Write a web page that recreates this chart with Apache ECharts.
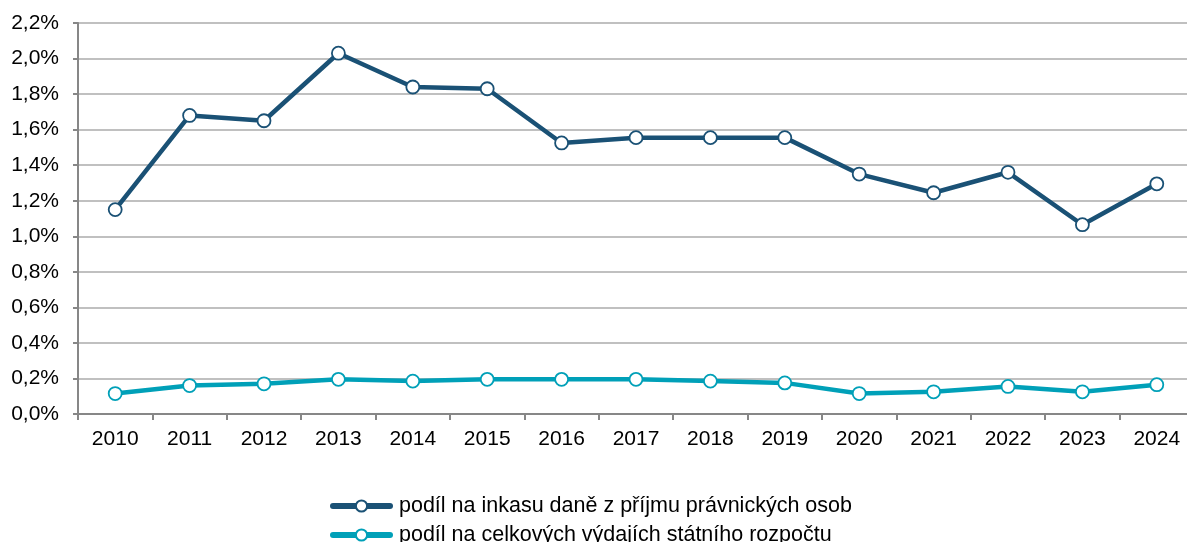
<!DOCTYPE html>
<html>
<head>
<meta charset="UTF-8">
<title>Podíl</title>
<script src="https://cdn.jsdelivr.net/npm/echarts@6/dist/echarts.min.js"></script>
<style>
html, body { margin: 0; padding: 0; background: #fff; overflow: hidden; }
#main { width: 1194px; height: 542px; }
</style>
</head>
<body>
<div id="main"></div>
<script type="text/javascript">
var years = ['2010', '2011', '2012', '2013', '2014', '2015', '2016', '2017', '2018', '2019', '2020', '2021', '2022', '2023', '2024'];
var podilInkaso = [1.15, 1.68, 1.65, 2.03, 1.84, 1.83, 1.525, 1.555, 1.555, 1.555, 1.35, 1.245, 1.36, 1.065, 1.295];
var podilVydaje = [0.115, 0.16, 0.17, 0.195, 0.185, 0.195, 0.195, 0.195, 0.185, 0.175, 0.115, 0.125, 0.155, 0.125, 0.165];
var names = ['podíl na inkasu daně z příjmu právnických osob', 'podíl na celkových výdajích státního rozpočtu'];
var colors = ['#1a5175', '#00a0b8'];

var myChart = echarts.init(document.getElementById('main'));

function makeSeries(name, data, color) {
    return {
        name: name,
        type: 'line',
        data: data,
        symbol: 'circle',
        symbolSize: 13,
        lineStyle: { width: 4.5, color: color },
        itemStyle: { color: '#fff', borderColor: color, borderWidth: 1.8 },
        emphasis: { disabled: true }
    };
}

function makeLegend(name, top) {
    return {
        orient: 'vertical',
        left: 325,
        top: top,
        itemWidth: 57,
        itemHeight: 14,
        itemGap: 8,
        lineStyle: { width: 6, cap: 'round' },
        textStyle: { fontSize: 21.5, color: '#000', padding: [0, 0, 0, 4] },
        data: [name]
    };
}

var option = {
    animation: false,
    textStyle: { fontFamily: 'Liberation Sans, Arial, sans-serif' },
    grid: { left: 78, right: 0, top: 23, height: 391, containLabel: false },
    legend: [
        makeLegend(names[0], 490),
        makeLegend(names[1], 519)
    ],
    xAxis: {
        type: 'category',
        data: years,
        boundaryGap: true,
        axisLine: { lineStyle: { color: '#878787', width: 2 } },
        axisTick: { show: true, length: 6, lineStyle: { color: '#878787', width: 2 } },
        axisLabel: { fontSize: 21, color: '#000', margin: 15 }
    },
    yAxis: {
        type: 'value',
        min: 0,
        max: 2.2,
        interval: 0.2,
        axisLine: { show: true, lineStyle: { color: '#878787', width: 2 } },
        axisTick: { show: true, length: 5, lineStyle: { color: '#878787', width: 2 } },
        axisLabel: {
            fontSize: 21,
            color: '#000',
            margin: 19,
            formatter: function (v) { return v.toFixed(1).replace('.', ',') + '%'; }
        },
        splitLine: { lineStyle: { color: '#c0c0c0', width: 2 } }
    },
    series: [
        makeSeries(names[0], podilInkaso, colors[0]),
        makeSeries(names[1], podilVydaje, colors[1])
    ]
};

myChart.setOption(option);
</script>
</body>
</html>
